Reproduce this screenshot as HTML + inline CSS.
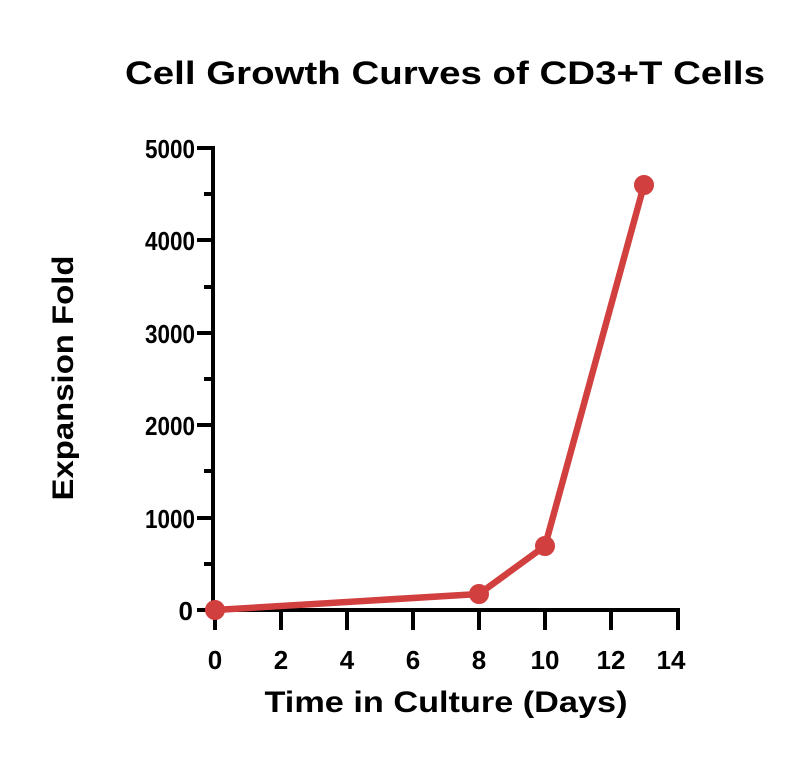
<!DOCTYPE html>
<html><head><style>body{margin:0;background:#fff}</style></head><body>
<svg width="800" height="765" xmlns="http://www.w3.org/2000/svg" font-family="Liberation Sans, sans-serif" font-weight="bold">
<text x="445" y="84" font-size="32" text-anchor="middle" textLength="640" lengthAdjust="spacingAndGlyphs">Cell Growth Curves of CD3+T  Cells</text>
<g stroke="#000" stroke-width="4" fill="none">
<path d="M213 146 V612 M211 610 H680"/>
<path d="M197 148H213 M197 240H213 M197 333H213 M197 425H213 M197 518H213 M197 610H213"/>
<path d="M204 194H213 M204 287H213 M204 379H213 M204 471H213 M204 564H213"/>
<path d="M215 610V630 M281 610V630 M347 610V630 M413 610V630 M479 610V630 M545 610V630 M611 610V630 M678 610V630"/>
</g>
<g font-size="26" text-anchor="end">
<text x="195" y="158" textLength="50" lengthAdjust="spacingAndGlyphs">5000</text><text x="195" y="250" textLength="50" lengthAdjust="spacingAndGlyphs">4000</text><text x="195" y="343" textLength="50" lengthAdjust="spacingAndGlyphs">3000</text><text x="195" y="435" textLength="50" lengthAdjust="spacingAndGlyphs">2000</text><text x="195" y="528" textLength="50" lengthAdjust="spacingAndGlyphs">1000</text><text x="193" y="620">0</text>
</g>
<g font-size="26" text-anchor="middle">
<text x="215" y="669">0</text><text x="281" y="669">2</text><text x="347" y="669">4</text><text x="413" y="669">6</text><text x="479" y="669">8</text><text x="545" y="669">10</text><text x="611" y="669">12</text><text x="671" y="669">14</text>
</g>
<text x="446" y="712" font-size="30" text-anchor="middle" textLength="363" lengthAdjust="spacingAndGlyphs">Time in Culture (Days)</text>
<text transform="translate(73,378) rotate(-90)" font-size="30" text-anchor="middle" textLength="245" lengthAdjust="spacingAndGlyphs">Expansion Fold</text>
<g stroke="#d13f3f" fill="#d13f3f">
<polyline points="215,610 479,594 545,546 644,185" stroke-width="6.5" fill="none" stroke-linejoin="round"/>
<circle cx="215" cy="610" r="9.5"/><circle cx="479" cy="594" r="9.5"/><circle cx="545" cy="546" r="9.5"/><circle cx="644" cy="185" r="9.5"/>
</g>
</svg>
</body></html>
